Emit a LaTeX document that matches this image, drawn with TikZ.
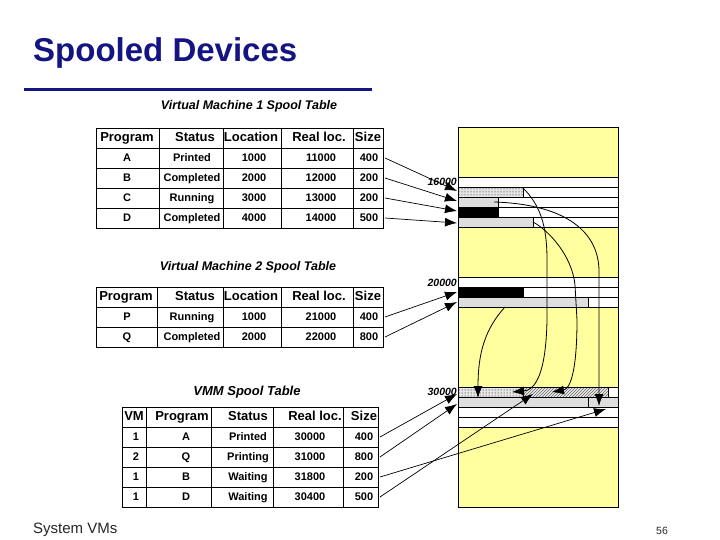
\documentclass[tikz,border=0pt]{standalone}
\usepackage{fontspec}
\setmainfont{Liberation Sans}
\usetikzlibrary{arrows.meta,patterns}
\definecolor{navy}{RGB}{20,20,130}
\definecolor{memyel}{RGB}{255,255,160}
\definecolor{lgray}{RGB}{222,222,222}
\begin{document}
\begin{tikzpicture}[x=1pt,y=-1pt,
  hdr/.style={font=\fontsize{13}{13}\selectfont\bfseries, inner sep=0pt, anchor=mid},
  cell/.style={font=\fontsize{11}{11}\selectfont\bfseries, inner sep=0pt, anchor=mid},
  ttl/.style={font=\fontsize{12.5}{12.5}\selectfont\bfseries\itshape, inner sep=0pt, anchor=mid},
  addr/.style={font=\fontsize{10.5}{10.5}\selectfont\bfseries\itshape, inner sep=0pt, anchor=mid east},
  grid/.style={draw=black, line width=0.8pt},
  tip/.style={-{Latex[length=12pt,width=9pt]}},
  ptr/.style={tip, line width=0.7pt},
  crv/.style={tip, line width=0.8pt},
  dotfill/.style={preaction={fill=black!10}, pattern=dots, pattern color=black},
  hatchfill/.style={preaction={fill=black!8}, pattern=north east lines, pattern color=black!60},
]
\useasboundingbox (0,0) rectangle (720,540);
\fill[white] (0,0) rectangle (720,540);

% title
\node[anchor=base west, inner sep=0pt, font=\fontsize{33}{33}\selectfont\bfseries, text=navy] (title) at (33,62) {Spooled Devices};
\draw[navy, line width=3pt] (24,90) -- (372,90);

% ---------- memory column ----------
\fill[memyel] (458,127) rectangle (618,507);
\foreach \yy in {177,187,197,207,217, 277,287,297, 387,397,407,417}
  \draw[grid, fill=white] (458,\yy) rectangle (618,\yy+10);
% VM1 spool area
\draw[grid, dotfill] (458,187) rectangle (523,197);
\draw[grid, fill=lgray] (458,197) rectangle (498,207);
\draw[grid, fill=black] (458,207) rectangle (498,217);
\draw[grid, fill=lgray] (458,217) rectangle (533,227);
% VM2 spool area
\draw[grid, fill=black] (458,287) rectangle (523,297);
\draw[grid, fill=lgray] (458,297) rectangle (588,307);
% VMM spool area
\draw[grid, dotfill] (458,387) rectangle (523,397);
\draw[grid, hatchfill] (523,387) rectangle (608,397);
\draw[grid, fill=lgray] (458,397) rectangle (588,407);
\draw[grid, fill=lgray] (588,397) rectangle (618,407);
\draw[grid] (458,127) rectangle (618,507);

\node[addr] (a16) at (457,183) {16000};
\node[addr] (a20) at (457,284) {20000};
\node[addr] (a30) at (457,393) {30000};

% ---------- table titles ----------
\node[ttl] (vm1t) at (249,107) {Virtual Machine 1 Spool Table};
\node[ttl] (vm2t) at (248,268) {Virtual Machine 2 Spool Table};
\node[ttl, font=\fontsize{13}{13}\selectfont\bfseries\itshape] (vmmt) at (247,393) {VMM Spool Table};

% ---------- table 1 ----------
\draw[grid] (96,128) rectangle (383,228);
\foreach \yy in {148,168,188,208} \draw[grid] (96,\yy) -- (383,\yy);
\foreach \xx in {159,223,281,353} \draw[grid] (\xx,128) -- (\xx,228);
\node[hdr] (h1a) at (127,139) {Program};
\node[hdr] (h1b) at (195,139) {Status};
\node[hdr] (h1c) at (251,139) {Location};
\node[hdr] (h1d) at (319,139) {Real loc.};
\node[hdr] (h1e) at (368,139) {Size};
\foreach \n/\yy/\pa/\pb/\pc/\pd/\pe in {1/158/A/Printed/1000/11000/400,
    2/178/B/Completed/2000/12000/200, 3/198/C/Running/3000/13000/200,
    4/218/D/Completed/4000/14000/500}{
  \node[cell] (t1-\n-1) at (127,\yy+1) {\pa};
  \node[cell] (t1-\n-2) at (192,\yy+1) {\pb};
  \node[cell] (t1-\n-3) at (254,\yy+1) {\pc};
  \node[cell] (t1-\n-4) at (321,\yy+1) {\pd};
  \node[cell] (t1-\n-5) at (369,\yy+1) {\pe};
}

% ---------- table 2 ----------
\draw[grid] (96,287) rectangle (383,347);
\foreach \yy in {307,327} \draw[grid] (96,\yy) -- (383,\yy);
\foreach \xx in {157,223,281,353} \draw[grid] (\xx,287) -- (\xx,347);
\node[hdr] (h2a) at (126,298) {Program};
\node[hdr] (h2b) at (195,298) {Status};
\node[hdr] (h2c) at (251,298) {Location};
\node[hdr] (h2d) at (319,298) {Real loc.};
\node[hdr] (h2e) at (368,298) {Size};
\foreach \n/\yy/\pa/\pb/\pc/\pd/\pe in {1/317/P/Running/1000/21000/400,
    2/337/Q/Completed/2000/22000/800}{
  \node[cell] (t2-\n-1) at (127,\yy+1) {\pa};
  \node[cell] (t2-\n-2) at (192,\yy+1) {\pb};
  \node[cell] (t2-\n-3) at (254,\yy+1) {\pc};
  \node[cell] (t2-\n-4) at (321,\yy+1) {\pd};
  \node[cell] (t2-\n-5) at (369,\yy+1) {\pe};
}

% ---------- VMM table ----------
\draw[grid] (122,407) rectangle (378,507);
\foreach \yy in {427,447,467,487} \draw[grid] (122,\yy) -- (378,\yy);
\foreach \xx in {146,211,273,343} \draw[grid] (\xx,407) -- (\xx,507);
\node[hdr] (h3a) at (134,418) {VM};
\node[hdr] (h3b) at (182,418) {Program};
\node[hdr] (h3c) at (248,418) {Status};
\node[hdr] (h3d) at (315,418) {Real loc.};
\node[hdr] (h3e) at (364,418) {Size};
\foreach \n/\yy/\pv/\pa/\pb/\pd/\pe in {1/437/1/A/Printed/30000/400,
    2/457/2/Q/Printing/31000/800, 3/477/1/B/Waiting/31800/200,
    4/497/1/D/Waiting/30400/500}{
  \node[cell] (t3-\n-1) at (136,\yy+1) {\pv};
  \node[cell] (t3-\n-2) at (186,\yy+1) {\pa};
  \node[cell] (t3-\n-3) at (248,\yy+1) {\pb};
  \node[cell] (t3-\n-4) at (310,\yy+1) {\pd};
  \node[cell] (t3-\n-5) at (364,\yy+1) {\pe};
}

% ---------- pointer coordinates ----------
\coordinate (s1a) at (385,158); \coordinate (m1a) at (457,191);
\coordinate (s1b) at (385,178); \coordinate (m1b) at (457,201);
\coordinate (s1c) at (385,198); \coordinate (m1c) at (457,211);
\coordinate (s1d) at (385,218); \coordinate (m1d) at (457,223);
\coordinate (s2p) at (385,317); \coordinate (m2p) at (457,292);
\coordinate (s2q) at (385,337); \coordinate (m2q) at (457,302);
\coordinate (s3a) at (380,437); \coordinate (m3a) at (457,394);
\coordinate (s3q) at (380,457); \coordinate (m3q) at (457,404);
\coordinate (s3b) at (380,477); \coordinate (m3b) at (606,409);
\coordinate (s3d) at (380,497); \coordinate (m3d) at (533,394);

\foreach \s/\m in {s1a/m1a,s1b/m1b,s1c/m1c,s1d/m1d,s2p/m2p,s2q/m2q,s3a/m3a,s3q/m3q,s3b/m3b,s3d/m3d}
  \draw[ptr] (\s) -- (\m);

% ---------- spooling copies (curves) ----------
\coordinate (cA0) at (523,188); \coordinate (cA1) at (512,392);
\coordinate (cB0) at (494,202); \coordinate (cB1) at (599,406);
\coordinate (cD0) at (533,222); \coordinate (cD1) at (552,392);
\coordinate (cQ0) at (505,307); \coordinate (cQ1) at (478,398);
\draw[crv] (cA0) .. controls (540,205) and (547,225) .. (547,260)
   -- (547,320) .. controls (546,372) and (536,390) .. (cA1);
\draw[crv] (cB0) .. controls (560,204) and (598,228) .. (599,270) -- (cB1);
\draw[crv] (cD0) .. controls (548,230) and (572,255) .. (575,285)
   -- (577,320) .. controls (577,372) and (570,389) .. (cD1);
\draw[crv] (cQ0) .. controls (484,330) and (478,355) .. (cQ1);

% ---------- footer ----------
\node[anchor=base west, inner sep=0pt, font=\fontsize{15}{15}\selectfont, text=black!85] (foot) at (33,533) {System VMs};
\node[anchor=base west, inner sep=0pt, font=\fontsize{10.5}{10.5}\selectfont, text=black!85] (pg) at (656,534) {56};
\end{tikzpicture}
\end{document}
